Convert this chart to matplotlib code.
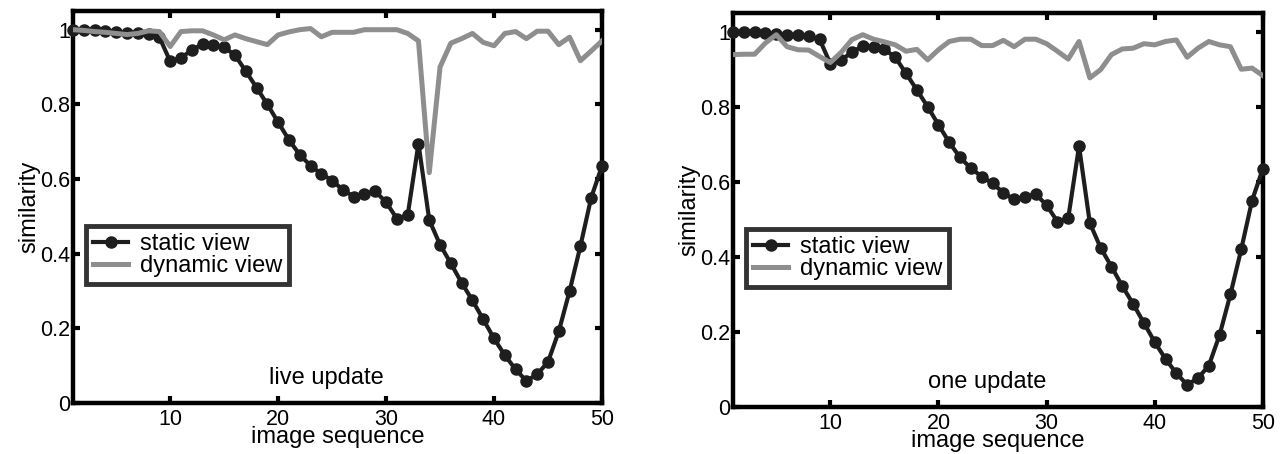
import numpy as np
import matplotlib.pyplot as plt

plt.rcParams['font.family'] = ['Liberation Sans', 'DejaVu Sans']

# image index 1..50
frames = np.arange(1, 51)

# similarity of the static view (same in both panels)
static_view = [1.00, 1.00, 1.00, 0.997, 0.995, 0.99, 0.99, 0.988, 0.98, 0.915,
               0.925, 0.945, 0.962, 0.96, 0.953, 0.932, 0.889, 0.845, 0.80, 0.752,
               0.705, 0.665, 0.636, 0.614, 0.596, 0.571, 0.553, 0.56, 0.567, 0.538,
               0.494, 0.503, 0.695, 0.49, 0.424, 0.374, 0.322, 0.275, 0.224, 0.173,
               0.128, 0.09, 0.059, 0.077, 0.11, 0.192, 0.30, 0.42, 0.55, 0.635]

# similarity of the dynamic view, live update
dynamic_live = [1.00, 0.998, 0.995, 0.993, 0.99, 0.987, 0.99, 0.997, 0.995, 0.955,
                0.995, 0.997, 0.997, 0.986, 0.973, 0.986, 0.976, 0.968, 0.96, 0.986,
                0.994, 1.00, 1.003, 0.981, 0.993, 0.993, 0.993, 1.00, 1.00, 1.00,
                1.00, 0.99, 0.97, 0.617, 0.90, 0.964, 0.976, 0.99, 0.966, 0.957,
                0.99, 0.995, 0.976, 0.996, 0.996, 0.96, 0.98, 0.917, 0.943, 0.97]

# similarity of the dynamic view, one update
dynamic_one = [0.939, 0.94, 0.94, 0.97, 0.992, 0.96, 0.952, 0.951, 0.934, 0.918,
               0.945, 0.979, 0.992, 0.98, 0.973, 0.965, 0.948, 0.953, 0.925, 0.952,
               0.974, 0.98, 0.98, 0.963, 0.963, 0.977, 0.96, 0.98, 0.98, 0.968,
               0.948, 0.927, 0.974, 0.877, 0.899, 0.939, 0.954, 0.956, 0.968, 0.965,
               0.974, 0.978, 0.932, 0.956, 0.974, 0.965, 0.96, 0.90, 0.903, 0.883]

panels = [
    ([0.0568, 0.1123, 0.4113, 0.8634], dynamic_live, "live update"),
    ([0.570, 0.1035, 0.412, 0.868], dynamic_one, "one update"),
]

fig = plt.figure(figsize=(12.86, 4.54), dpi=100)

for rect, dynamic, note in panels:
    ax = fig.add_axes(rect)
    ax.plot(frames, static_view, color="#1e1e1e", linewidth=3, marker="o",
            markersize=8, label="static view", clip_on=False, zorder=3)
    ax.plot(frames, dynamic, color="#8e8e8e", linewidth=3.6,
            label="dynamic view", zorder=4)
    ax.set_xlim(1, 50)
    ax.set_ylim(0, 1.05)
    ax.set_xticks([10, 20, 30, 40, 50])
    ax.set_yticks([0, 0.2, 0.4, 0.6, 0.8, 1])
    ax.set_yticklabels(["0", "0.2", "0.4", "0.6", "0.8", "1"])
    ax.tick_params(direction="in", length=5, width=3, labelsize=15.5,
                   top=True, right=True)
    ax.tick_params(axis="x", pad=4)
    ax.tick_params(axis="y", pad=2)
    for sp in ax.spines.values():
        sp.set_linewidth(3.2)
    ax.set_xlabel("image sequence", fontsize=17, labelpad=-2.5)
    ax.set_ylabel("similarity", fontsize=17, labelpad=0)
    ax.text(24.5, 0.067, note, fontsize=17, ha="center", va="center")
    leg = ax.legend(loc="upper left", bbox_to_anchor=(0.024, 0.452), fontsize=17,
                    frameon=True, fancybox=False, edgecolor="black",
                    handlelength=1.5, handletextpad=0.5, labelspacing=0.0,
                    borderpad=0.3, borderaxespad=0)
    leg.get_frame().set_linewidth(3.5)

plt.savefig("out.png", dpi=100)
